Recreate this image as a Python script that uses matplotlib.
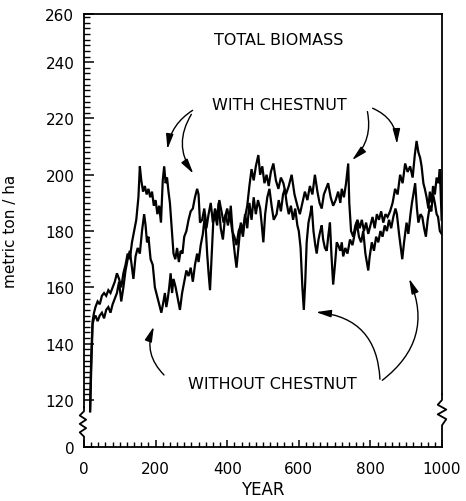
import matplotlib
matplotlib.use("Agg")
import matplotlib.pyplot as plt
import numpy as np

# ---- data ----
with_years = [17,20,24,28,32,38,44,50,56,62,68,74,80,86,92,98,104,110,116,122,128,134,140,146,152,156,160,165,170,175,180,185,190,195,200,205,210,215,220,224,228,232,236,240,245,250,255,260,265,270,275,280,286,292,298,304,310,316,320,324,330,336,342,348,354,360,366,372,378,384,390,396,402,408,414,420,426,432,438,444,450,456,462,468,474,480,487,492,498,504,510,516,522,529,536,543,550,557,564,572,580,588,596,603,610,617,624,631,638,645,652,658,664,670,676,682,689,696,703,710,716,720,726,732,738,741,746,752,758,764,770,776,782,788,794,800,806,812,818,824,830,836,842,848,855,862,869,876,883,890,897,904,911,918,924,929,934,939,943,948,952,957,962,966,971,975,980,985,990,994,999]
with_vals = [116,135,148,151,153,155,154,157,158,157,159,158,160,162,165,163,160,165,168,172,170,176,180,184,192,203,198,194,196,193,195,192,194,189,191,186,189,183,198,203,197,199,194,190,181,172,170,174,169,173,172,178,180,184,187,188,192,195,193,183,184,188,181,186,190,183,188,185,191,187,183,186,182,186,180,178,175,180,182,178,185,189,196,202,198,203,207,200,203,197,200,196,201,204,198,195,199,197,193,196,200,193,189,186,190,194,191,196,193,200,194,190,188,193,195,197,192,189,191,194,190,195,192,197,204,190,180,178,182,184,181,184,180,183,179,182,185,181,186,184,187,183,186,185,187,190,195,193,200,197,204,201,203,199,207,212,208,206,203,197,195,192,188,194,190,196,193,199,197,202,184]

without_years = [17,20,24,28,32,38,44,50,56,62,68,74,80,86,92,98,104,110,116,122,128,134,138,144,150,156,162,168,172,176,180,186,192,198,204,210,216,222,226,230,234,238,242,246,250,256,262,268,274,280,286,292,298,304,310,316,320,326,332,338,344,348,352,356,361,366,372,376,382,388,394,400,406,410,416,422,426,432,438,444,450,456,462,468,474,480,486,492,496,501,506,512,518,524,530,538,544,550,556,561,566,572,578,584,590,596,600,605,610,614,618,622,627,632,636,641,646,650,655,660,664,668,673,678,683,687,691,696,701,706,710,716,720,724,730,736,743,750,756,762,768,774,780,786,790,794,798,804,810,816,822,828,834,840,846,852,858,864,870,874,880,885,889,894,901,906,912,916,920,925,930,934,940,945,950,955,960,966,970,975,980,985,989,994,999]
without_vals = [116,130,147,149,150,148,150,151,149,152,153,151,154,156,158,162,155,160,166,170,173,167,163,171,174,172,180,186,182,176,178,170,168,160,157,154,151,155,158,153,156,160,165,158,163,160,156,152,158,162,166,164,167,162,168,172,169,175,179,186,172,165,159,170,183,186,182,190,181,177,185,188,184,189,178,171,167,175,183,180,186,181,190,184,192,186,191,188,183,176,186,192,195,189,184,186,191,187,193,195,190,186,189,184,188,182,180,174,160,152,162,176,183,186,189,180,175,172,177,180,182,177,174,173,179,183,172,161,168,176,175,173,176,171,174,172,177,175,179,183,178,176,180,172,169,166,171,176,173,178,176,180,178,182,180,184,181,185,188,186,179,174,170,176,183,179,186,190,193,197,188,183,186,185,181,178,184,189,187,193,190,186,185,180,179]

x_ticks = [0, 200, 400, 600, 800, 1000]
y_tick_vals = [103.3, 120, 140, 160, 180, 200, 220, 240, 257.1]
y_tick_labels = ["0", "120", "140", "160", "180", "200", "220", "240", "260"]

W, H = 466, 502
fig = plt.figure(figsize=(W / 100, H / 100), dpi=100)
ax = fig.add_axes([84 / W, 1 - 448 / H, (442 - 84) / W, (448 - 15) / H])

ax.plot(with_years, with_vals, color="black", lw=1.6, solid_joinstyle="miter")
ax.plot(without_years, without_vals, color="black", lw=1.6, solid_joinstyle="miter")

ax.set_xlim(0, 1000)
ax.set_ylim(103.3, 257.1)

ax.set_xticks(x_ticks)
ax.set_xticks(np.arange(0, 1001, 20), minor=True)
ax.set_yticks(y_tick_vals)
ax.set_yticklabels(y_tick_labels)
ax.set_yticks(np.arange(120, 257, 2), minor=True)

ax.tick_params(axis="both", which="both", direction="in", labelsize=11, color="black")
ax.tick_params(axis="y", which="major", length=7, width=1.1, pad=7)
ax.tick_params(axis="y", which="minor", length=4, width=1.0)
ax.tick_params(axis="x", which="major", length=5, width=1.1, pad=10)
ax.tick_params(axis="x", which="minor", length=3.5, width=1.0)

for s in ax.spines.values():
    s.set_linewidth(1.3)
ax.spines["left"].set_bounds(117.5, 257.1)
ax.spines["right"].set_bounds(122, 257.1)

# broken-axis zigzags
ytr = ax.get_yaxis_transform()
ax.plot([0, 0, -0.012, 0.006, -0.012, 0.006, -0.012, 0, 0],
        [117.5, 116, 114.5, 113, 111.5, 110, 108.5, 107, 103.3],
        color="black", lw=1.3, transform=ytr, clip_on=False)
ax.plot([1, 1, 0.988, 1.012, 0.988, 1.012, 1, 1],
        [122, 120, 118.3, 116.6, 114.9, 113.2, 111, 103.3],
        color="black", lw=1.3, transform=ytr, clip_on=False)

ax.set_xlabel("YEAR", fontsize=12, labelpad=3)
ax.set_ylabel("metric ton / ha", fontsize=11)
ax.yaxis.set_label_coords(-0.185, 0.5)

ax.text(545, 248.2, "TOTAL BIOMASS", fontsize=11.5, ha="center", va="center")
ax.text(547, 224.8, "WITH CHESTNUT", fontsize=11.5, ha="center", va="center")
ax.text(525, 125.7, "WITHOUT CHESTNUT", fontsize=11.5, ha="center", va="center")

ap = dict(arrowstyle="-|>,head_length=0.9,head_width=0.22", color="black", lw=1.0)
arrows = [
    ((310, 223.4), (232, 208.1), 0.25),
    ((304, 222.3), (310, 199.6), 0.35),
    ((790, 223.4), (743, 204.5), -0.3),
    ((799, 224.0), (874, 209.9), -0.35),
    ((229, 128.2), (198, 147.0), -0.35),
    ((827, 126.4), (640, 151.3), 0.45),
    ((827, 126.4), (905, 164.0), 0.4),
]
for tail, head, rad in arrows:
    ax.annotate("", xy=head, xytext=tail,
                arrowprops=dict(ap, connectionstyle=f"arc3,rad={rad}"))

fig.savefig("out.png", dpi=100)
